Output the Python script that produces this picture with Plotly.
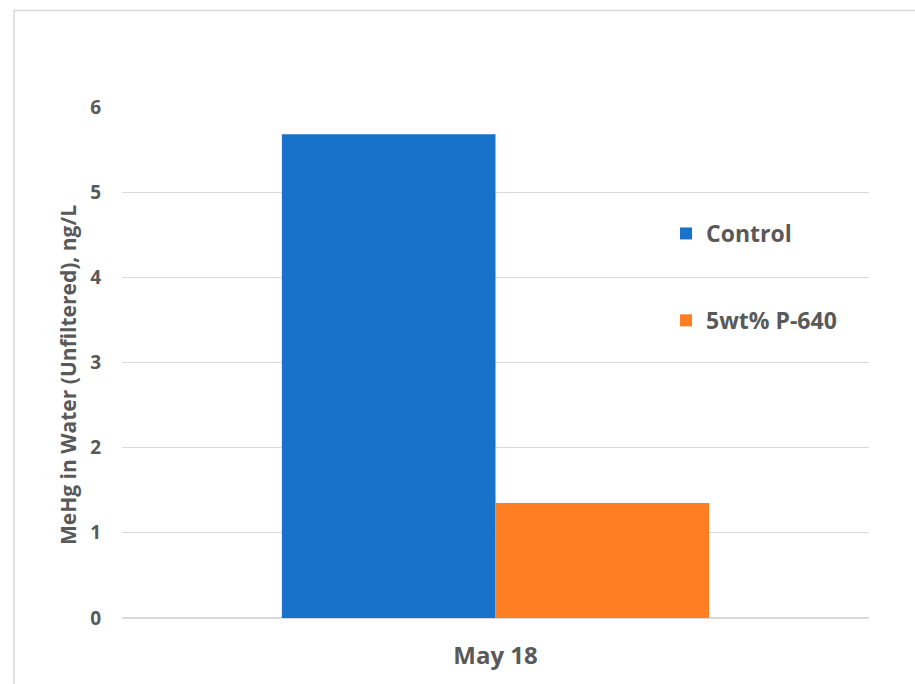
import plotly.graph_objects as go

# Sampling date (single category) and MeHg results per treatment
categories = ["May 18"]
control_values = [5.68]
p640_values = [1.35]
series_names = ["Control", "5wt% P-640"]
y_ticks = [0, 1, 2, 3, 4, 5, 6]
y_title = "MeHg in Water (Unfiltered), ng/L"

W, H = 915, 684
ML, MR, MT, MB = 122, 46, 107, 66
plot_w = W - ML - MR
plot_h = H - MT - MB

FONT = "'Open Sans', Lato, sans-serif"
TEXT = "#595959"
GRID = "#d9d9d9"

fig = go.Figure()
fig.add_trace(go.Bar(
    x=categories, y=control_values, name=series_names[0],
    marker=dict(color="#1872c9", line=dict(width=0)),
    legendgroup="a",
))
fig.add_trace(go.Bar(
    x=categories, y=p640_values, name=series_names[1],
    marker=dict(color="#fd7e23", line=dict(width=0)),
    legendgroup="b",
))


def px_x(v):
    return (v - ML) / plot_w


def px_y(v):
    return (H - MB - v) / plot_h


# Light outer frame around the chart area
fig.add_shape(
    type="rect", xref="paper", yref="paper",
    x0=px_x(14), x1=px_x(930), y0=px_y(10.5), y1=px_y(700),
    line=dict(color=GRID, width=1.5), fillcolor="rgba(0,0,0,0)",
    layer="below",
)

# Vertical value-axis title
fig.add_annotation(
    text=y_title, textangle=-90, showarrow=False,
    xref="paper", yref="paper", x=px_x(68), y=px_y(375),
    xanchor="center", yanchor="middle",
    font=dict(size=21, family=FONT, color=TEXT, weight="bold"),
)

fig.update_layout(
    width=W, height=H,
    margin=dict(l=ML, r=MR, t=MT, b=MB),
    paper_bgcolor="white", plot_bgcolor="white",
    barmode="group", bargap=0.428, bargroupgap=0,
    font=dict(family=FONT, color=TEXT),
    showlegend=True,
    legend=dict(
        x=px_x(666), y=px_y(212), xanchor="left", yanchor="top",
        font=dict(size=23, family=FONT, color=TEXT, weight="bold"),
        tracegroupgap=54, traceorder="grouped",
        bgcolor="rgba(0,0,0,0)", itemwidth=30,
    ),
    xaxis=dict(
        showgrid=False, showline=False, zeroline=False,
        tickfont=dict(size=24, family=FONT, color=TEXT, weight="bold"),
        ticks="", ticklabelstandoff=21,
    ),
    yaxis=dict(
        range=[0, 6], tickvals=y_ticks,
        showgrid=True, gridcolor=GRID, gridwidth=1.3,
        zeroline=True, zerolinecolor=GRID, zerolinewidth=1.5,
        showline=False, ticks="", ticklabelstandoff=20,
        tickfont=dict(size=19, family=FONT, color=TEXT, weight="bold"),
    ),
)

fig.write_html("out.html")
